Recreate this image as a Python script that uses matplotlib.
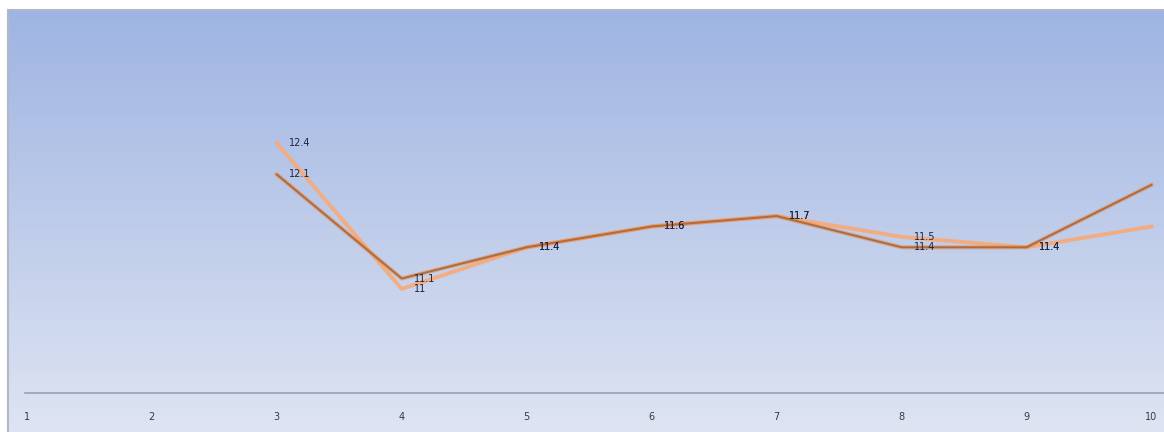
import matplotlib.pyplot as plt
import numpy as np

# category positions and the two measurement series (start at position 3)
positions = [1, 2, 3, 4, 5, 6, 7, 8, 9, 10]
tick_labels = ['1', '2', '3', '4', '5', '6', '7', '8', '9', '10']
series_x = [3, 4, 5, 6, 7, 8, 9, 10]
series_dark = [12.1, 11.1, 11.4, 11.6, 11.7, 11.4, 11.4, 12.0]
series_light = [12.4, 11.0, 11.4, 11.6, 11.7, 11.5, 11.4, 11.6]

W, H = 1164, 432
fig = plt.figure(figsize=(W / 100, H / 100), dpi=100)
fig.patch.set_facecolor('white')

# gradient backdrop for the chart area
bg = fig.add_axes([8 / W, 0, 1 - 8 / W, 1 - 10 / H])
top = np.array([158, 180, 226]) / 255
bottom = np.array([222, 228, 242]) / 255
t = np.linspace(0, 1, 256)[:, None, None]
grad = top * (1 - t) + bottom * t
grad = np.repeat(grad, 2, axis=1)
bg.imshow(grad, aspect='auto', extent=[0, 1, 0, 1])
bg.set_xlim(0, 1)
bg.set_ylim(0, 1)
for side in ['top', 'left']:
    bg.spines[side].set_color('#b4b8c6')
    bg.spines[side].set_linewidth(1.5)
for side in ['right', 'bottom']:
    bg.spines[side].set_visible(False)
bg.set_xticks([])
bg.set_yticks([])

ax = fig.add_axes([25 / W, 39 / H, 1 - 25 / W, (393 - 10) / H])
ax.patch.set_alpha(0)
ax.plot(series_x, series_light, color='#f5ab7c', lw=2.8,
        solid_joinstyle='round', alpha=0.95, zorder=3)
# darker series: soft orange halo under a thin brown core
ax.plot(series_x, series_dark, color='#e0905a', lw=3.0, solid_joinstyle='round', alpha=0.6, zorder=4)
ax.plot(series_x, series_dark, color='#b06a3c', lw=1.4, solid_joinstyle='round', zorder=4)

for vals in [series_dark, series_light]:
    for x, y in zip(series_x, vals):
        ax.annotate(f'{y:g}', (x, y), xytext=(9, 0), textcoords='offset points',
                    fontsize=7, color='#1c2640', va='center', ha='left', zorder=5)

ax.set_xlim(0.985, 10.1)
ax.set_ylim(10, 13.68)
ax.set_xticks(positions)
ax.set_xticklabels(tick_labels, fontsize=7, color='#3a3a3a')
ax.set_yticks([])
ax.tick_params(axis='x', length=0, pad=14)
for side in ['top', 'left', 'right']:
    ax.spines[side].set_visible(False)
ax.spines['bottom'].set_color('#9aa0ad')
ax.spines['bottom'].set_linewidth(1.2)

fig.savefig('out.png', dpi=100)
